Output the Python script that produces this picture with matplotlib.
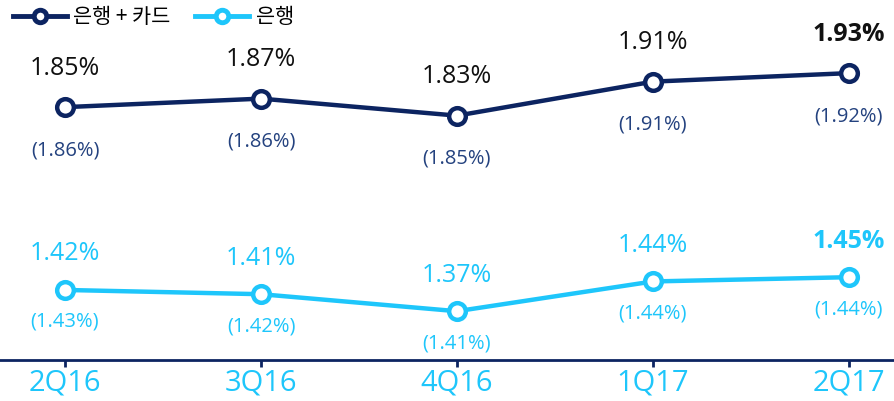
import matplotlib
matplotlib.use("Agg")
import matplotlib.pyplot as plt
from matplotlib.lines import Line2D

categories = ["2Q16", "3Q16", "4Q16", "1Q17", "2Q17"]
bank_card = [1.85, 1.87, 1.83, 1.91, 1.93]
bank_card_sub = [1.86, 1.86, 1.85, 1.91, 1.92]
bank = [1.42, 1.41, 1.37, 1.44, 1.45]
bank_sub = [1.43, 1.42, 1.41, 1.44, 1.44]
legend_labels = ["은행 + 카드", "은행"]

plt.rcParams['font.family'] = ['Noto Sans CJK KR', 'DejaVu Sans']
NUM_FONT = ['Open Sans', 'DejaVu Sans']

NAVY = "#0c2461"
NAVY_SUB = "#24427f"
CYAN = "#1ec6fb"

fig = plt.figure(figsize=(8.94, 4.01), dpi=100)
ax = fig.add_axes([0, 0.102, 1, 0.898])
x = list(range(len(categories)))

for vals, col in [(bank_card, NAVY), (bank, CYAN)]:
    ax.plot(x, vals, color=col, lw=3.2, marker='o', ms=12, mfc='white',
            mec=col, mew=3.2, zorder=3)

for i in x:
    last = i == len(x) - 1
    ax.annotate(f"{bank_card[i]:.2f}%", (i, bank_card[i]), xytext=(0, 28),
                textcoords='offset points', ha='center', va='center', family=NUM_FONT,
                fontsize=18, color='#111111', fontweight='bold' if last else 'normal')
    ax.annotate(f"({bank_card_sub[i]:.2f}%)", (i, bank_card[i]), xytext=(0, -31),
                textcoords='offset points', ha='center', va='center', family=NUM_FONT,
                fontsize=14.5, color=NAVY_SUB)
    ax.annotate(f"{bank[i]:.2f}%", (i, bank[i]), xytext=(0, 26),
                textcoords='offset points', ha='center', va='center', family=NUM_FONT,
                fontsize=18, color=CYAN, fontweight='bold' if last else 'normal')
    ax.annotate(f"({bank_sub[i]:.2f}%)", (i, bank[i]), xytext=(0, -23),
                textcoords='offset points', ha='center', va='center', family=NUM_FONT,
                fontsize=14.5, color=CYAN)

ax.set_xlim(-0.332, 4.23)
ax.set_ylim(1.255, 2.102)
ax.set_xticks(x)
ax.set_xticklabels(categories, fontsize=21, color=CYAN, family=NUM_FONT)
ax.set_yticks([])
for s in ['top', 'right', 'left']:
    ax.spines[s].set_visible(False)
ax.spines['bottom'].set_color(NAVY)
ax.spines['bottom'].set_linewidth(2)
ax.tick_params(axis='x', length=5, width=2, color=NAVY, pad=1)

handles = [Line2D([], [], color=NAVY, lw=3.5, marker='o', ms=9, mfc='white', mec=NAVY, mew=3.5),
           Line2D([], [], color=CYAN, lw=3.5, marker='o', ms=9, mfc='white', mec=CYAN, mew=3.5)]
fig.legend(handles, legend_labels, loc='upper left', bbox_to_anchor=(0.0, 1.015), ncol=2,
           frameon=False, fontsize=15, handlelength=2.6, handletextpad=0.3,
           columnspacing=1.2, borderaxespad=0.2)

fig.savefig("out.png", dpi=100)
